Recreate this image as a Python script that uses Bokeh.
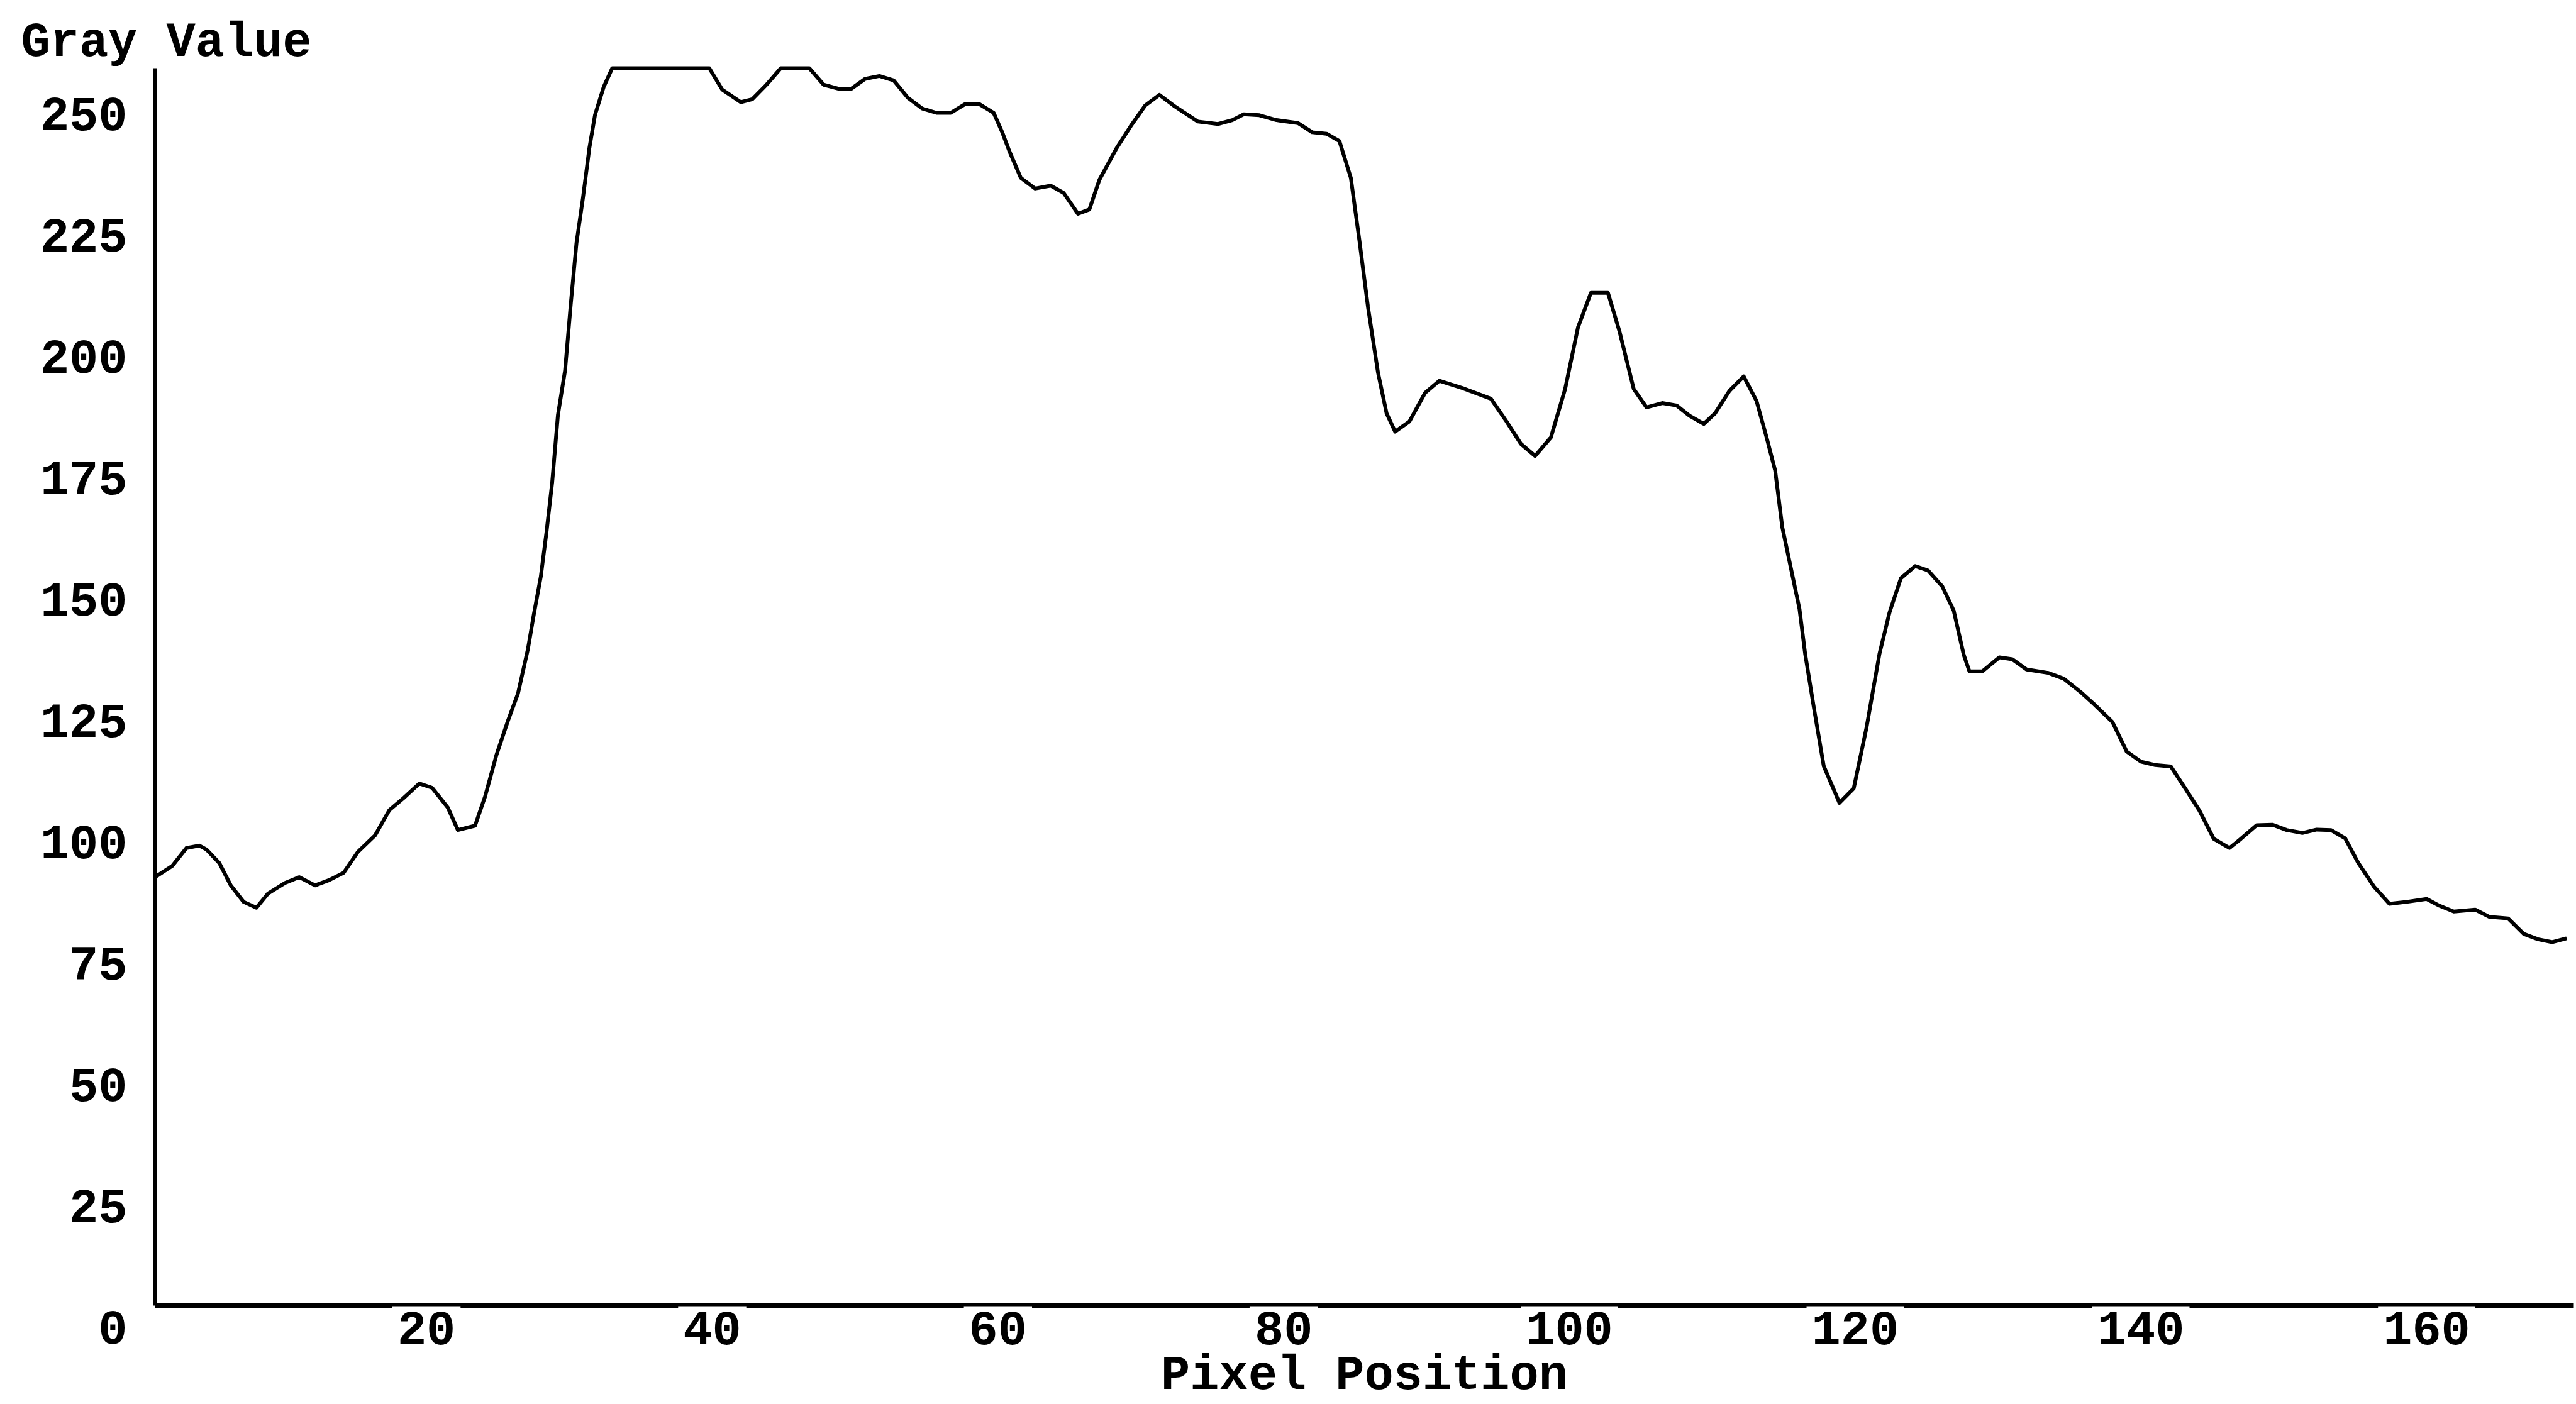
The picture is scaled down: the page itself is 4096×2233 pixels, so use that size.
from bokeh.plotting import figure
from bokeh.models import Range1d
from bokeh.core.properties import value
from bokeh.embed import file_html
from bokeh.resources import INLINE

# ---- data ----
pixel_position = [
    1, 2.2, 3.2, 4.1, 4.6, 5.5, 6.3, 7.2, 8.1, 8.9,
    10.1, 11.1, 12.2, 13.2, 14.2, 15.2, 16.4, 17.4, 18.4, 19.5,
    20.4, 21.5, 22.2, 23.4, 24.1, 24.9, 25.7, 26.4, 27.1, 27.5,
    28.0, 28.4, 28.8, 29.2, 29.7, 30.1, 30.5, 30.95, 31.4, 31.8,
    32.4, 33.0, 39.8, 40.7, 42.0, 42.8, 43.8, 44.8, 46.8, 47.8,
    48.8, 49.7, 50.7, 51.7, 52.7, 53.7, 54.7, 55.7, 56.7, 57.7,
    58.7, 59.7, 60.3, 60.8, 61.6, 62.6, 63.7, 64.6, 65.6, 66.4,
    67.1, 68.3, 69.3, 70.3, 71.3, 72.3, 74.0, 75.4, 76.4, 77.2,
    78.3, 79.5, 81.0, 82.0, 83.0, 83.9, 84.7, 85.3, 85.9, 86.6,
    87.2, 87.8, 88.8, 89.9, 90.9, 92.5, 94.5, 95.6, 96.6, 97.6,
    98.7, 99.7, 100.6, 101.5, 102.7, 103.5, 104.5, 105.4, 106.5, 107.5,
    108.4, 109.4, 110.2, 111.2, 112.2, 113.1, 113.8, 114.4, 114.9, 115.5,
    116.1, 116.5, 117.1, 117.8, 118.9, 119.9, 120.8, 121.7, 122.4, 123.2,
    124.2, 125.1, 126.1, 126.9, 127.6, 128.0, 128.9, 130.1, 131.0, 132.0,
    133.5, 134.6, 135.8, 136.7, 138.0, 139.0, 140.0, 141.0, 142.1, 143.1,
    144.1, 145.1, 146.2, 147.0, 148.1, 149.2, 150.2, 151.3, 152.3, 153.3,
    154.3, 155.2, 156.3, 157.4, 158.6, 160.0, 160.9, 161.9, 163.4, 164.4,
    165.7, 166.8, 167.8, 168.8, 169.8,
]
gray_value = [
    88.3, 90.6, 94.3, 94.8, 94.0, 91.2, 86.6, 83.2, 82.0, 84.9,
    87.1, 88.3, 86.6, 87.7, 89.2, 93.5, 96.9, 102.1, 104.6, 107.6,
    106.7, 102.6, 98.0, 98.9, 104.9, 113.5, 120.5, 126.1, 135.3, 142.2,
    150.2, 159.4, 169.7, 183.5, 192.7, 206.4, 219.0, 228.2, 238.5, 245.4,
    251.1, 255, 255, 250.6, 248.0, 248.6, 251.6, 255, 255, 251.6,
    250.8, 250.7, 252.8, 253.4, 252.5, 248.9, 246.7, 245.8, 245.8, 247.6,
    247.6, 245.8, 241.8, 237.9, 232.4, 230.2, 230.8, 229.3, 225.0, 225.9,
    232.0, 238.5, 243.1, 247.3, 249.5, 247.3, 244.0, 243.5, 244.3, 245.5,
    245.3, 244.3, 243.7, 241.8, 241.5, 240.0, 232.4, 219.5, 205.8, 192.3,
    183.9, 180.1, 182.2, 188.1, 190.6, 189.1, 186.9, 182.2, 177.6, 175.1,
    178.9, 188.9, 201.6, 208.7, 208.7, 200.8, 188.9, 185.1, 186.0, 185.5,
    183.4, 181.7, 183.9, 188.5, 191.5, 186.4, 178.9, 172.1, 160.4, 152.0,
    143.6, 134.3, 123.4, 111.2, 103.6, 106.6, 119.2, 134.3, 142.8, 149.9,
    152.4, 151.5, 148.2, 143.2, 134.1, 130.7, 130.7, 133.6, 133.2, 131.1,
    130.4, 129.2, 126.4, 124.0, 120.3, 114.2, 112.1, 111.4, 111.1, 106.6,
    102.0, 96.2, 94.3, 96.2, 99.0, 99.1, 98.0, 97.4, 98.1, 98.0,
    96.3, 91.3, 86.4, 82.8, 83.2, 83.8, 82.4, 81.2, 81.6, 80.1,
    79.8, 76.6, 75.5, 74.9, 75.7,
]
x_ticks = [20, 40, 60, 80, 100, 120, 140, 160]
x_tick_labels = ["20", "40", "60", "80", "100", "120", "140", "160"]
y_ticks = [0, 25, 50, 75, 100, 125, 150, 175, 200, 225, 250]
y_tick_labels = ["0", "25", "50", "75", "100", "125", "150", "175", "200", "225", "250"]
x_title = "Pixel Position"
y_title = "Gray Value"

# axis extents (data units)
X_START, X_END = 1, 170.3
Y_START, Y_END = 0, 255

# layout (pixels): plot area inside the canvas
W, H = 4096, 2233
PAD_L, PAD_R, PAD_T, PAD_B = 246, 4, 108, 157
kx = (W - PAD_L - PAD_R) / (X_END - X_START)
ky = (H - PAD_T - PAD_B) / (Y_END - Y_START)
x_range = Range1d(X_START - PAD_L / kx, X_END + PAD_R / kx)
y_range = Range1d(Y_START - PAD_B / ky, Y_END + PAD_T / ky)

FONT = value("Liberation Mono")
FS = value("77px")

p = figure(width=W, height=H, x_range=x_range, y_range=y_range,
           output_backend="svg", toolbar_location=None,
           min_border=0, min_border_left=0, min_border_right=0,
           min_border_top=0, min_border_bottom=0)
p.background_fill_color = "white"
p.border_fill_color = "white"
p.outline_line_color = None
p.grid.visible = False
p.xaxis.visible = False
p.yaxis.visible = False

# profile curve
p.line(pixel_position, gray_value, line_width=6, line_color="black",
       line_join="round")

# axis lines
p.segment(x0=[X_START], y0=[Y_START], x1=[X_START], y1=[Y_END],
          line_width=5.5, line_color="black")
p.segment(x0=[X_START], y0=[Y_START], x1=[X_END], y1=[Y_START],
          line_width=7, line_color="black")

# y tick labels
p.text(x=[X_START] * len(y_ticks), y=y_ticks, text=y_tick_labels,
       x_offset=-44, y_offset=34,
       text_align="right", text_baseline="middle",
       text_font=FONT, text_font_style="bold", text_font_size=FS,
       text_color="black")

# x tick labels; their white boxes break the axis line as in the reference
p.text(x=x_ticks, y=[Y_START] * len(x_ticks), text=x_tick_labels,
       y_offset=35,
       text_align="center", text_baseline="middle",
       text_font=FONT, text_font_style="bold", text_font_size=FS,
       text_color="black", background_fill_color="white",
       padding=8)

# titles
p.text(x=[X_START], y=[Y_END], text=[y_title], x_offset=-213, y_offset=-40,
       text_align="left", text_baseline="middle",
       text_font=FONT, text_font_style="bold", text_font_size=FS,
       text_color="black")
p.text(x=[(X_START + X_END) / 2], y=[Y_START], text=[x_title],
       x_offset=0, y_offset=112,
       text_align="center", text_baseline="middle",
       text_font=FONT, text_font_style="bold", text_font_size=FS,
       text_color="black")

open("out.html", "w").write(file_html(p, INLINE))
